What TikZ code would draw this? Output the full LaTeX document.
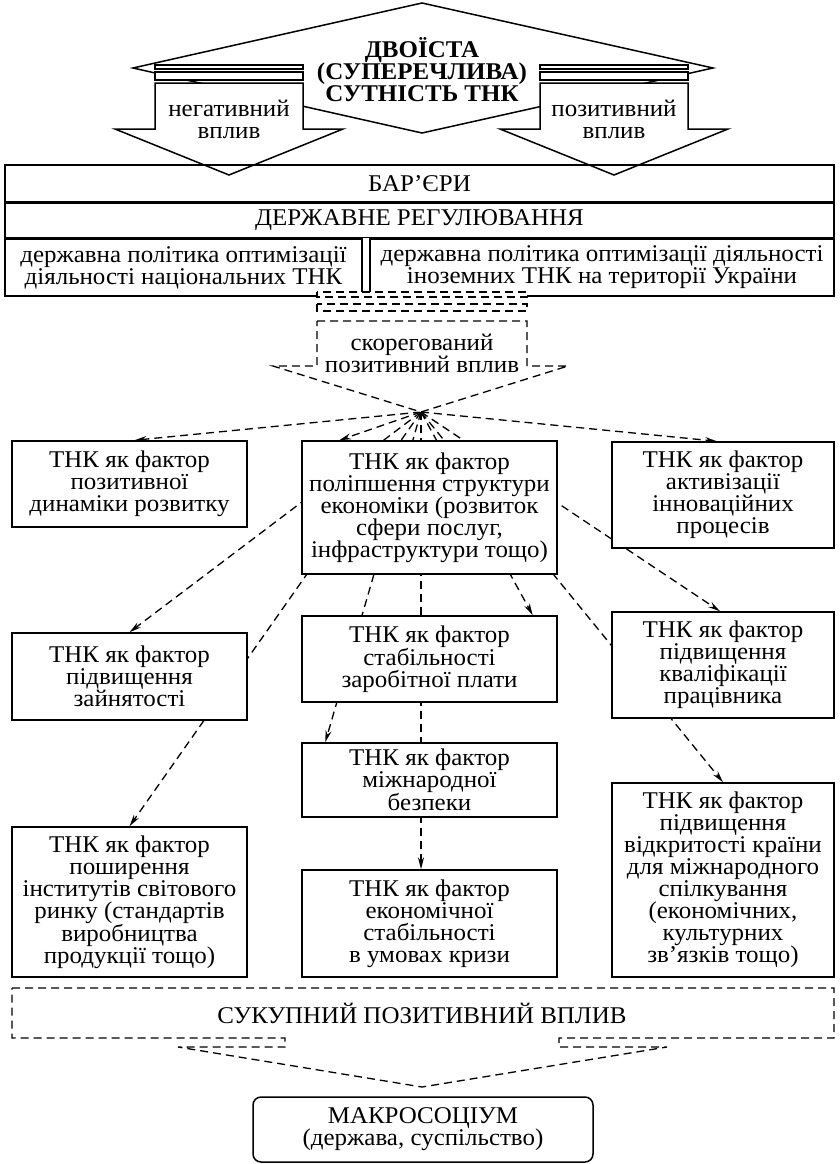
\documentclass[tikz,border=0pt]{standalone}
\usepackage{fontspec}
\setmainfont[FakeStretch=1.04]{Liberation Serif}
\usetikzlibrary{arrows.meta,backgrounds}

\begin{document}
\begin{tikzpicture}[x=1pt,y=-1pt,line width=1.5pt,font=\fontsize{24}{22}\selectfont,
	fbox/.style={draw,fill=white,align=center,inner sep=0pt},
	rowbox/.style={draw,align=center,inner sep=0pt},
	dsh/.style={line width=1.3pt,dash pattern=on 8pt off 5pt},
	conn/.style={dsh,-{Stealth[length=12pt,width=6pt]}}]

\useasboundingbox (0,0) rectangle (839,1164);

	\draw[fill=white] (133,68) -- (422,3) -- (713,68) -- (422,133) -- cycle;

	\draw[fill=white] (155,65) rectangle ++(148,4) (155,72) rectangle ++(148,8);
	\draw[fill=white] (540,65) rectangle ++(148,4) (540,72) rectangle ++(148,8);
	\draw[fill=white] (155,83) -- ++(148,0) -- ++(0,46) -- ++(40,0)
		-- ++(-114,46) -- ++(-114,-46) -- ++(40,0) -- cycle;
	\draw[fill=white] (540,83) -- ++(148,0) -- ++(0,46) -- ++(40,0)
		-- ++(-114,46) -- ++(-114,-46) -- ++(40,0) -- cycle;

	\node[font=\fontsize{24}{22}\selectfont\bfseries,align=center] (title) at (422,70)
		{ДВОЇСТА\\(СУПЕРЕЧЛИВА)\\СУТНІСТЬ ТНК};
	\node[align=center] (neg) at (229,119) {негативний\\вплив};
	\node[align=center] (pos) at (614,119) {позитивний\\вплив};

	\node[rowbox,minimum width=829,minimum height=37] (bar) at (419.5,183.5) {БАР’ЄРИ};
	\node[rowbox,minimum width=829,minimum height=34,anchor=north] (reg) at (bar.south)
		{ДЕРЖАВНЕ РЕГУЛЮВАННЯ};
	\node[rowbox,minimum width=357,minimum height=57,anchor=north west] (polL) at (reg.south west)
		{державна політика оптимізації\\діяльності національних ТНК};
	\node[rowbox,minimum width=464,minimum height=57,anchor=north east] (polR) at (reg.south east)
		{державна політика оптимізації діяльності\\іноземних ТНК на території України};

	\draw[dsh,fill=white] (317,292) rectangle (527,297);
	\draw[dsh,fill=white] (317,304) rectangle (527,311);
	\coordinate (hub) at (421,412);
	\draw[dsh,fill=white] (317,321) -- (527,321) -- (527,366) -- (568,366)
		-- (hub) -- (273,366) -- (317,366) -- cycle;
	\node[align=center] (corr) at (422,353) {скорегований\\позитивний вплив};

	\node[fbox,minimum width=235,minimum height=86] (l1) at (129.5,484)
		{ТНК як фактор\\позитивної\\динаміки розвитку};
	\node[fbox,minimum width=255,minimum height=133] (c1) at (429.5,507.5)
		{ТНК як фактор\\поліпшення структури\\економіки (розвиток\\сфери послуг,\\інфраструктури тощо)};
	\node[fbox,minimum width=222,minimum height=106] (r1) at (723,495)
		{ТНК як фактор\\активізації\\інноваційних\\процесів};

	\node[fbox,minimum width=235,minimum height=87] (l2) at (129.5,676.5)
		{ТНК як фактор\\підвищення\\зайнятості};
	\node[fbox,minimum width=255,minimum height=86] (c2) at (429.5,659)
		{ТНК як фактор\\стабільності\\заробітної плати};
	\node[fbox,minimum width=222,minimum height=106] (r2) at (723,665)
		{ТНК як фактор\\підвищення\\кваліфікації\\працівника};

	\node[fbox,minimum width=255,minimum height=74] (c3) at (429.5,780)
		{ТНК як фактор\\міжнародної\\безпеки};
	\node[fbox,minimum width=222,minimum height=194] (r3) at (723,880)
		{ТНК як фактор\\підвищення\\відкритості країни\\для міжнародного\\спілкування\\(економічних,\\культурних\\зв’язків тощо)};

	\node[fbox,minimum width=235,minimum height=150] (l4) at (129.5,902)
		{ТНК як фактор\\поширення\\інститутів світового\\ринку (стандартів\\виробництва\\продукції тощо)};
	\node[fbox,minimum width=255,minimum height=107] (c4) at (429.5,923.5)
		{ТНК як фактор\\економічної\\стабільності\\в умовах кризи};

\begin{scope}[on background layer]
	\draw[conn] (hub) -- ([xshift=5pt]l1.north);
	\draw[conn] (hub) -- ([xshift=38pt]c1.north west);
	\draw[conn] (hub) -- ([xshift=-6pt]r1.north);
	\draw[conn] (hub) -- (l2.north);
	\draw[conn] (hub) -- (l4.north);
	\draw[conn] (hub) -- ([xshift=24pt]c3.north west);
	\draw[conn] (hub) -- (hub |- c4.north);
	\draw[conn] (hub) -- ([xshift=-25pt]c2.north east);
	\draw[conn] (hub) -- ([xshift=-3pt]r2.north);
	\draw[conn] (hub) -- (r3.north);
\end{scope}

	\draw[dsh] (12,988) -- (834,988) -- (834,1038) -- (559,1038) -- (559,1047) -- (667,1047)
		-- (422,1087) -- (178,1047) -- (285,1047) -- (285,1038) -- (12,1038) -- cycle;
	\node (sum) at (422,1013) {СУКУПНИЙ ПОЗИТИВНИЙ ВПЛИВ};

	\node[draw,rounded corners=8pt,align=center,inner sep=0pt,minimum width=340,minimum height=65]
		(macro) at (423,1129.5) {МАКРОСОЦІУМ\\(держава, суспільство)};
\end{tikzpicture}
\end{document}
